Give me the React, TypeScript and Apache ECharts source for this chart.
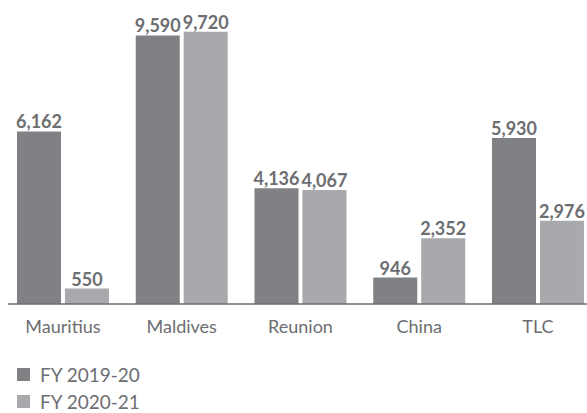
import React, { useEffect, useRef } from "react";
import * as echarts from "echarts";

const categories = ["Mauritius", "Maldives", "Reunion", "China", "TLC"];
const fy2019 = [6162, 9590, 4136, 946, 5930];
const fy2020 = [550, 9720, 4067, 2352, 2976];
const seriesNames = ["FY 2019-20", "FY 2020-21"];

const DARK = "#808184";
const LIGHT = "#a7a9ac";
const TEXT = "#6d6e71";
const FONT = "Lato, 'Noto Sans', sans-serif";

export default function App() {
  const ref = useRef<HTMLDivElement>(null);
  useEffect(() => {
    document.body.style.margin = "0";
    const chart = echarts.init(ref.current!, null, { renderer: "svg" });
    const labelCfg = {
      show: true,
      position: "top" as const,
      distance: 1,
      color: TEXT,
      fontFamily: FONT,
      fontWeight: "bold" as const,
      fontSize: 18,
      formatter: (p: any) => Number(p.value).toLocaleString("en-US"),
    };
    chart.setOption({
      animation: false,
      backgroundColor: "#ffffff",
      grid: {
        left: 3.6,
        width: 593.75,
        top: 24,
        height: 280,
        containLabel: false,
        outerBoundsMode: "none",
      },
      xAxis: {
        type: "category",
        data: categories,
        axisLine: { show: false },
        axisTick: { show: false },
        axisLabel: { color: TEXT, fontFamily: FONT, fontSize: 18, margin: 13 },
      },
      yAxis: { type: "value", min: 0, max: 10000, show: false, splitLine: { show: false } },
      legend: {
        orient: "vertical",
        left: 17,
        top: 365,
        height: 60,
        padding: 0,
        itemWidth: 13,
        itemHeight: 13,
        itemGap: 8,
        icon: "rect",
        data: seriesNames,
        textStyle: {
          color: TEXT,
          fontFamily: FONT,
          fontSize: 19,
          lineHeight: 18,
          padding: [0, 0, 0, 5],
        },
      },
      graphic: [
        {
          type: "line",
          shape: { x1: 8, y1: 304, x2: 587, y2: 304 },
          style: { stroke: "#6d6e71", lineWidth: 1.3 },
          z: 10,
        },
      ],
      series: [
        {
          name: seriesNames[0],
          type: "bar",
          data: fy2019,
          barWidth: 44,
          barGap: "9%",
          itemStyle: { color: DARK },
          label: labelCfg,
        },
        {
          name: seriesNames[1],
          type: "bar",
          data: fy2020,
          barWidth: 44,
          barGap: "9%",
          itemStyle: { color: LIGHT },
          label: labelCfg,
        },
      ],
    });
    return () => chart.dispose();
  }, []);
  return <div ref={ref} style={{ width: 587, height: 413 }} />;
}
